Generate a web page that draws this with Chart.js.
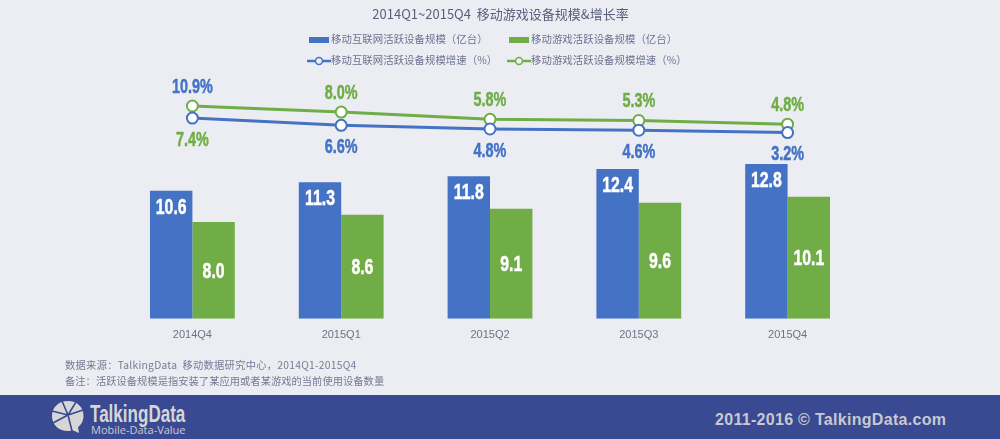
<!DOCTYPE html>
<html>
<head>
<meta charset="utf-8">
<script src="https://cdn.jsdelivr.net/npm/chart.js@4"></script>
<style>
html, body { margin: 0; padding: 0; background: #ecedf3; overflow: hidden; }
#page { position: relative; width: 1000px; height: 439px; font-family: "Noto Sans CJK SC", sans-serif; }
#grafik { position: absolute; left: 0; top: 0; }
.yazi { position: absolute; white-space: nowrap; line-height: 1; }
.lejant { font-size: 10.4px; color: #6d7190; letter-spacing: 0.05px; }
.not { left: 65px; font-size: 10.3px; color: #777a94; }
#baslik { left: 0; width: 1001px; top: 7px; text-align: center; font-size: 13px; color: #5a5e7c; white-space: pre; }
#alt { position: absolute; left: 0; top: 395px; width: 1000px; height: 44px; background: #3a4a92; }
.kutu { position: absolute; width: 20px; height: 6px; }
</style>
</head>
<body>
<div id="page">
  <canvas id="grafik" width="1000" height="395"></canvas>
  <div class="yazi" id="baslik"></div>
  <div id="lejant"></div>
  <div class="yazi not" style="top:360px;letter-spacing:0.25px">数据来源：TalkingData&nbsp;&nbsp;移动数据研究中心，2014Q1-2015Q4</div>
  <div class="yazi not" style="top:376px">备注：活跃设备规模是指安装了某应用或者某游戏的当前使用设备数量</div>
  <div id="alt">
    <svg style="position:absolute;left:50px;top:5px" width="36" height="36" viewBox="0 0 36 36">
      <path d="M18 1 C27 1 33.500 7 33.500 16 C33.500 21 31 25 28 27 L29 33 L22 30 C20 31 19 31 18 31 C9 31 2 25 2 16 C2 7 9 1 18 1 Z" fill="#d6d6d6"/>
      <path d="M18 15 L12 1 M18 15 L2 11 M18 15 L3 23 M18 15 L22 31 M18 15 L33 10 M18 15 L26 2" stroke="#3a4a92" stroke-width="1.600" fill="none"/>
    </svg>
    <div class="yazi" style="left:90px;top:5px;font:bold 24px 'Liberation Sans';color:#d6d6d6;transform-origin:0 0;transform:scaleX(0.71)">TalkingData</div>
    <div class="yazi" style="left:91px;top:27px;font:11px 'Open Sans';color:#c9cbd6">Mobile-Data-Value</div>
    <div class="yazi" style="left:715px;top:16px;font:bold 16px 'Liberation Sans';color:#c8c9d0;letter-spacing:0.3px">2011-2016 © TalkingData.com</div>
  </div>
</div>
<script>
const baslik = '2014Q1~2015Q4  移动游戏设备规模&增长率';
const donemler = ['2014Q4', '2015Q1', '2015Q2', '2015Q3', '2015Q4'];

const internetCihaz = [10.6, 11.3, 11.8, 12.4, 12.8];
const oyunCihaz = [8.0, 8.6, 9.1, 9.6, 10.1];

// printed growth rates
const internetArtis = [10.9, 6.6, 4.8, 4.6, 3.2];
const oyunArtis = [7.4, 8.0, 5.8, 5.3, 4.8];

// height of the two lines as drawn in the picture, they do not follow the printed rates
const internetCizgi = [16.6, 16.0, 15.7, 15.6, 15.4];
const oyunCizgi = [17.6, 17.1, 16.5, 16.4, 16.1];

const internetAdi = '移动互联网活跃设备规模（亿台）';
const oyunAdi = '移动游戏活跃设备规模（亿台）';
const internetArtisAdi = '移动互联网活跃设备规模增速（%）';
const oyunArtisAdi = '移动游戏活跃设备规模增速（%）';

const mavi = '#4472c4';
const yesil = '#70ad47';

// the labels are a heavy condensed face, no such font here so squeeze Liberation Sans
function darYazi(ctx, metin, x, y) {
    ctx.save();
    ctx.translate(x, y);
    ctx.scale(0.72, 1);
    ctx.strokeStyle = ctx.fillStyle;
    ctx.lineWidth = 0.5;
    ctx.fillText(metin, 0, 0);
    ctx.strokeText(metin, 0, 0);
    ctx.restore();
}

const etiketEklentisi = {
    id: 'etiketler',
    afterDatasetsDraw(chart) {
        const ctx = chart.ctx;
        ctx.save();
        ctx.textAlign = 'center';
        ctx.textBaseline = 'middle';

        // bar values
        ctx.font = "bold 22px 'Liberation Sans'";
        ctx.fillStyle = '#ffffff';
        chart.getDatasetMeta(0).data.forEach((bar, i) => {
            darYazi(ctx, internetCihaz[i].toFixed(1), bar.x, bar.y + 17);
        });
        chart.getDatasetMeta(1).data.forEach((bar, i) => {
            darYazi(ctx, oyunCihaz[i].toFixed(1), bar.x, (bar.y + bar.base) / 2 + 1);
        });

        // growth labels, larger one on top of the lines
        ctx.font = "bold 20px 'Liberation Sans'";
        const maviNokta = chart.getDatasetMeta(2).data;
        const yesilNokta = chart.getDatasetMeta(3).data;
        donemler.forEach((d, i) => {
            const maviUstte = internetArtis[i] > oyunArtis[i];
            const x = maviNokta[i].x;
            ctx.fillStyle = maviUstte ? mavi : yesil;
            darYazi(ctx, (maviUstte ? internetArtis[i] : oyunArtis[i]).toFixed(1) + '%', x, yesilNokta[i].y - 19);
            ctx.fillStyle = maviUstte ? yesil : mavi;
            darYazi(ctx, (maviUstte ? oyunArtis[i] : internetArtis[i]).toFixed(1) + '%', x, maviNokta[i].y + 22);
        });
        ctx.restore();
    }
};

function lejantCiz() {
    const kap = document.getElementById('lejant');
    const ekle = (html) => kap.insertAdjacentHTML('beforeend', html);
    const kutu = (x, renk, ad) => {
        ekle(`<div class="kutu" style="left:${x}px;top:37px;background:${renk}"></div>`);
        ekle(`<div class="yazi lejant" style="left:${x + 22}px;top:34px">${ad}</div>`);
    };
    const cizgi = (x, renk, ad) => {
        ekle(`<svg style="position:absolute;left:${x - 2}px;top:55px" width="24" height="12"><line x1="0" y1="6" x2="24" y2="6" stroke="${renk}" stroke-width="2.500"/><circle cx="12" cy="6" r="3.500" fill="#ecedf3" stroke="${renk}" stroke-width="1.500"/></svg>`);
        ekle(`<div class="yazi lejant" style="left:${x + 22}px;top:55px">${ad}</div>`);
    };
    kutu(309, mavi, internetAdi);
    kutu(509, yesil, oyunAdi);
    cizgi(309, mavi, internetArtisAdi);
    cizgi(509, yesil, oyunArtisAdi);
}

function grafikCiz() {
    const data = {
        labels: donemler,
        datasets: [
            { label: internetAdi, data: internetCihaz, backgroundColor: mavi, order: 2 },
            { label: oyunAdi, data: oyunCihaz, backgroundColor: yesil, order: 2 },
            {
                type: 'line', label: internetArtisAdi, data: internetCizgi, order: 1,
                borderColor: mavi, borderWidth: 3, pointRadius: 5.5, pointBorderWidth: 2,
                pointBackgroundColor: '#ffffff', pointBorderColor: mavi, tension: 0
            },
            {
                type: 'line', label: oyunArtisAdi, data: oyunCizgi, order: 1,
                borderColor: yesil, borderWidth: 3, pointRadius: 5.5, pointBorderWidth: 2,
                pointBackgroundColor: '#ffffff', pointBorderColor: yesil, tension: 0
            }
        ]
    };

    new Chart(document.getElementById('grafik'), {
        type: 'bar',
        data: data,
        plugins: [etiketEklentisi],
        options: {
            responsive: false,
            animation: false,
            layout: { padding: { left: 118, right: 138, top: 77, bottom: 51 } },
            categoryPercentage: 0.57,
            barPercentage: 1,
            plugins: {
                legend: { display: false },
                tooltip: { enabled: false }
            },
            scales: {
                x: {
                    grid: { display: false },
                    border: { display: false },
                    ticks: { color: '#6f7285', font: { family: "'Liberation Sans'", size: 11 }, padding: 2 }
                },
                y: { display: false, min: 0, max: 20 }
            }
        }
    });
}

document.getElementById('baslik').textContent = baslik;
lejantCiz();
grafikCiz();
</script>
</body>
</html>
